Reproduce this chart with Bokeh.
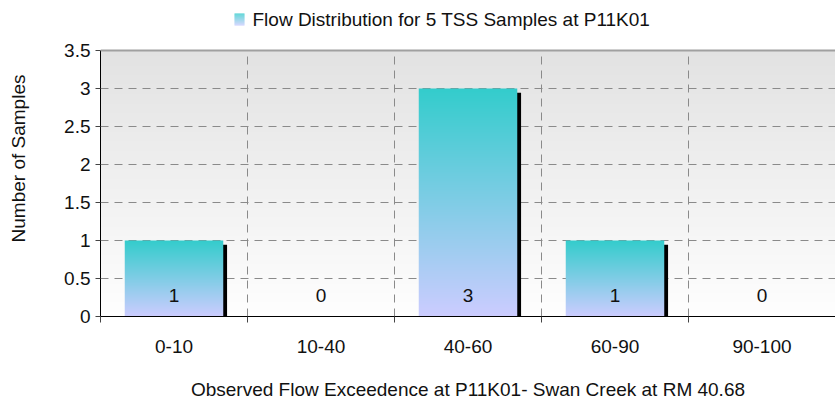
import numpy as np
from bokeh.plotting import figure
from bokeh.models import FixedTicker, BoxAnnotation, Range1d, Span, Label
from bokeh.core.properties import value
from bokeh.embed import file_html
from bokeh.resources import INLINE

# ---- data ----
categories = ["0-10", "10-40", "40-60", "60-90", "90-100"]
counts = [1, 0, 3, 1, 0]
y_ticks = [0, 0.5, 1, 1.5, 2, 2.5, 3, 3.5]
y_tick_labels = ["0", "0.5", "1", "1.5", "2", "2.5", "3", "3.5"]
legend_text = "Flow Distribution for 5 TSS Samples at P11K01"
x_title = "Observed Flow Exceedence at P11K01- Swan Creek at RM 40.68"
y_title = "Number of Samples"

# ---- style ----
FONT = "Liberation Sans"
FS = "19px"
TXT = "#111111"
TEAL = np.array([51, 204, 204], dtype=float)
LAV = np.array([204, 204, 255], dtype=float)
BG_TOP = np.array([226, 226, 226], dtype=float)
BG_BOT = np.array([254, 254, 254], dtype=float)
BAR_W = 0.67
GRID_COLOR = "#8a8a8a"
GRID_DASH = "8 6"

# layout (pixels): canvas 835x402, plot area for values from y=50 to y=316
W, H = 835, 402
PLOT_TOP_PX, PLOT_BOTTOM_PX = 50, 316


def vgrad(top, bottom, n=256):
    t = np.linspace(0.0, 1.0, n)[:, None]
    rgb = bottom[None, :] + (top - bottom)[None, :] * t
    img = np.empty((n, 1), dtype=np.uint32)
    v = img.view(dtype=np.uint8).reshape((n, 1, 4))
    v[:, 0, 0:3] = np.round(rgb).astype(np.uint8)
    v[:, 0, 3] = 255
    return img


n = len(categories)
centers = [i + 0.5 for i in range(n)]
bounds = list(range(1, n))
y_max = y_ticks[-1]
# frame extends up to canvas top so the legend line can sit inside it
y_end = y_max * PLOT_BOTTOM_PX / (PLOT_BOTTOM_PX - PLOT_TOP_PX)

p = figure(width=W, height=H, output_backend="svg", toolbar_location=None,
           x_range=Range1d(0, n), y_range=Range1d(0, y_end), title=None,
           min_border_left=100, min_border_right=0, min_border_top=0,
           min_border_bottom=H - PLOT_BOTTOM_PX, background_fill_color="white",
           border_fill_color="white")
p.outline_line_color = None

# plot-area gradient background (only over the value range)
p.image_rgba(image=[vgrad(BG_TOP, BG_BOT)], x=0, y=0, dw=n, dh=y_max, level="image")

# vertical dashed grid lines at category boundaries
p.xgrid.visible = False
p.segment(x0=bounds, y0=[0] * len(bounds), x1=bounds, y1=[y_max] * len(bounds),
          line_color=GRID_COLOR, line_dash=GRID_DASH, line_width=1, level="underlay")

# horizontal dashed grid
p.ygrid.ticker = FixedTicker(ticks=y_ticks[1:-1])
p.ygrid.grid_line_color = GRID_COLOR
p.ygrid.grid_line_dash = GRID_DASH
p.ygrid.grid_line_width = 1

# top border of plot area
p.add_layout(Span(location=y_max, dimension="width", line_color="#a0a0a0", line_width=2))

# bars: shadow + gradient fill
xs_left = [c - BAR_W / 2 for c in centers]
dx = 0.026
dy = 0.055
sh_idx = [i for i in range(n) if counts[i] > 0]
p.quad(left=[xs_left[i] + dx for i in sh_idx],
       right=[xs_left[i] + BAR_W + dx for i in sh_idx],
       bottom=0, top=[counts[i] - dy for i in sh_idx],
       fill_color="black", line_color=None)
bar_img = vgrad(TEAL, LAV)
p.image_rgba(image=[bar_img] * len(sh_idx), x=[xs_left[i] for i in sh_idx],
             y=[0] * len(sh_idx), dw=[BAR_W] * len(sh_idx),
             dh=[counts[i] for i in sh_idx])

# value labels
p.text(x=centers, y=[0] * n, text=[str(c) for c in counts], y_offset=-21,
       text_align="center", text_baseline="middle", text_font=value(FONT),
       text_font_size=value(FS), text_color=TXT)

# x axis
xa = p.xaxis[0]
xa.ticker = FixedTicker(ticks=centers, minor_ticks=list(range(0, n + 1)))
xa.major_label_overrides = {c: lab for c, lab in zip(centers, categories)}
xa.major_tick_out = 0
xa.major_tick_in = 0
xa.minor_tick_out = 6
xa.minor_tick_in = 0
xa.minor_tick_line_color = "#444444"
xa.axis_line_color = "black"
xa.major_label_standoff = 17
xa.axis_label = x_title
xa.axis_label_standoff = 23

# y axis
ya = p.yaxis[0]
ya.ticker = FixedTicker(ticks=y_ticks)
ya.bounds = (0, y_max)
ya.major_label_overrides = {t: lab for t, lab in zip(y_ticks, y_tick_labels)}
ya.major_tick_out = 5
ya.major_tick_in = 0
ya.minor_tick_out = 0
ya.minor_tick_in = 0
ya.major_tick_line_color = "#444444"
ya.axis_line_color = "black"
ya.major_label_standoff = 5
ya.axis_label = y_title
ya.axis_label_standoff = 32

for ax in (xa, ya):
    ax.major_label_text_font = FONT
    ax.major_label_text_font_size = FS
    ax.major_label_text_color = TXT
    ax.axis_label_text_font = FONT
    ax.axis_label_text_font_size = FS
    ax.axis_label_text_font_style = "normal"
    ax.axis_label_text_color = TXT

# legend: gradient swatch + text (frame-relative screen units, y up)
strips = 12
icon_left, icon_right, icon_bottom = 134, 144, PLOT_BOTTOM_PX - 25
for k in range(strips):
    t = (k + 0.5) / strips
    col = LAV + (TEAL - LAV) * t
    hexcol = "#%02x%02x%02x" % tuple(int(round(v)) for v in col)
    b = icon_bottom + k
    p.add_layout(BoxAnnotation(left=icon_left, right=icon_right, bottom=b, top=b + 1,
                               left_units="screen", right_units="screen",
                               bottom_units="screen", top_units="screen",
                               fill_color=hexcol, fill_alpha=1.0, line_color=None,
                               line_alpha=0, level="overlay"))
p.add_layout(Label(x=152, y=PLOT_BOTTOM_PX - 19, x_units="screen", y_units="screen",
                   text=legend_text, text_font=FONT, text_font_size=FS,
                   text_color=TXT, text_baseline="middle", text_align="left"))

open("out.html", "w").write(file_html(p, INLINE))
